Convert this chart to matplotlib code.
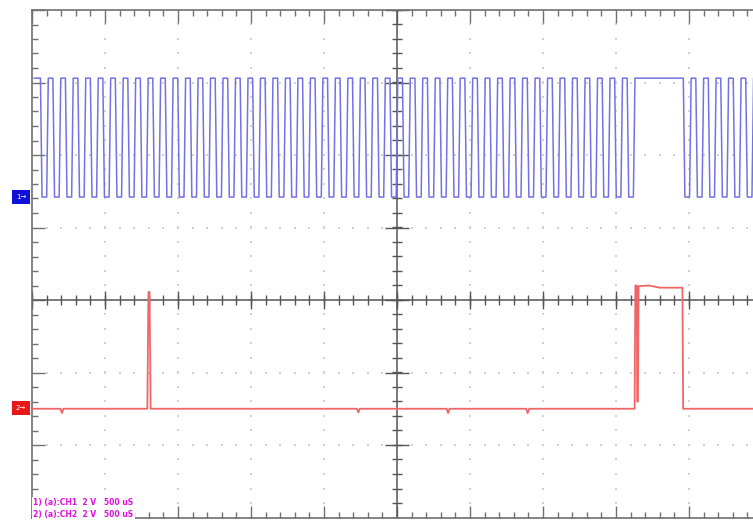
import numpy as np
import matplotlib.pyplot as plt
from matplotlib.patches import Rectangle
from matplotlib.ticker import MultipleLocator

# channel 1 (blue): one character per half-bit slot, 1 = high, 0 = low
ch1_bits = ("1010101010101010101010101010101010101010101010101010101010101010"
            "10101010101010101010101010101010"
            "11111111"
            "0101010101010")
ch1_slot = 0.0855         # divisions per slot
ch1_high = 3.06
ch1_low = 1.42

# channel 2 (red): breakpoints in divisions
ch2_t = [0.00, 0.39, 0.41, 0.43, 1.58, 1.595, 1.61, 1.625, 4.45, 4.47, 4.49,
         5.68, 5.70, 5.72, 6.77, 6.79, 6.81, 8.255, 8.265, 8.285, 8.29, 8.30,
         8.31, 8.45, 8.60, 8.91, 8.92, 10.10]
ch2_v = [-1.50, -1.50, -1.56, -1.50, -1.50, 0.11, 0.11, -1.50, -1.50, -1.55, -1.50,
         -1.50, -1.56, -1.50, -1.50, -1.56, -1.50, -1.50, 0.20, 0.20, -1.40, -1.40,
         0.19, 0.20, 0.17, 0.17, -1.50, -1.50]

status_lines = ["1) (a):CH1  2 V   500 uS", "2) (a):CH2  2 V   500 uS"]

W, H = 753, 520
fig = plt.figure(figsize=(W / 100, H / 100), dpi=100)
ax = fig.add_axes([32 / W, 2.5 / H, 730 / W, 507.5 / H])
ax.set_xlim(0, 10)
ax.set_ylim(-3, 4)

# dotted grid
gcol = '#d2d2d2'
for gx in range(1, 10):
    if gx == 5:
        continue
    ys = np.arange(-3, 4.01, 0.2)
    ax.scatter(np.full(len(ys), gx), ys, s=1.6, marker='s', color=gcol, linewidths=0, zorder=1)
for gy in range(-2, 4):
    if gy == 0:
        continue
    xs = np.arange(0, 10.01, 0.2)
    ax.scatter(xs, np.full(len(xs), gy), s=1.6, marker='s', color=gcol, linewidths=0, zorder=1)

# centre cross with ticks
ccol = '#555555'
ax.axvline(5, color=ccol, lw=1.1, zorder=2)
ax.axhline(0, color=ccol, lw=1.1, zorder=2)
xs = np.arange(0, 10.01, 0.2)
ax.vlines(xs, -0.075, 0.075, color=ccol, lw=1.0, zorder=2)
ax.vlines(np.arange(0, 11, 1), -0.13, 0.13, color=ccol, lw=1.0, zorder=2)
ys = np.arange(-3, 4.01, 0.2)
ax.hlines(ys, 5 - 0.07, 5 + 0.07, color=ccol, lw=1.0, zorder=2)
ax.hlines(np.arange(-3, 5, 1), 5 - 0.16, 5 + 0.16, color=ccol, lw=1.0, zorder=2)

# channel 1 trace
rise = 0.022
bx, by = [0.03], [ch1_high if ch1_bits[0] == '1' else ch1_low]
for i, c in enumerate(ch1_bits):
    v = ch1_high if c == '1' else ch1_low
    t = 0.03 + i * ch1_slot
    bx += [t + rise, t + ch1_slot]
    by += [v, v]
ax.plot(bx, by, color='#7272e6', lw=1.1, zorder=3)

# channel 2 trace
ax.plot(ch2_t, ch2_v, color='#f06666', lw=1.3, zorder=3)

# frame and edge ticks
for s in ax.spines.values():
    s.set_color('#707070')
    s.set_linewidth(1.2)
ax.xaxis.set_major_locator(MultipleLocator(1))
ax.xaxis.set_minor_locator(MultipleLocator(0.2))
ax.yaxis.set_major_locator(MultipleLocator(1))
ax.yaxis.set_minor_locator(MultipleLocator(0.2))
ax.tick_params(which='both', direction='in', top=True, bottom=True, left=True, right=False,
               labelleft=False, labelbottom=False, color='#707070', width=1.0)
ax.tick_params(which='major', length=9)
ax.tick_params(which='minor', length=4)

# channel markers
fig.patches.append(Rectangle((12 / W, 1 - 204 / H), 18 / W, 14 / H, transform=fig.transFigure,
                             facecolor='#1010d8', edgecolor='none', zorder=5))
fig.text(21 / W, 1 - 197 / H, '1\u2192', color='white', fontsize=5, ha='center', va='center', zorder=6)
fig.patches.append(Rectangle((12 / W, 1 - 415 / H), 18 / W, 14 / H, transform=fig.transFigure,
                             facecolor='#e81818', edgecolor='none', zorder=5))
fig.text(21 / W, 1 - 408 / H, '2\u2192', color='white', fontsize=5, ha='center', va='center', zorder=6)

# status text
for k, line in enumerate(status_lines):
    fig.text(33 / W, 1 - (503 + 11 * k) / H, line, color='#e010e0', fontsize=5.5,
             fontweight='bold', ha='left', va='center', zorder=7,
             bbox=dict(facecolor='white', edgecolor='none', pad=1.0))

fig.savefig('out.png', dpi=100)
